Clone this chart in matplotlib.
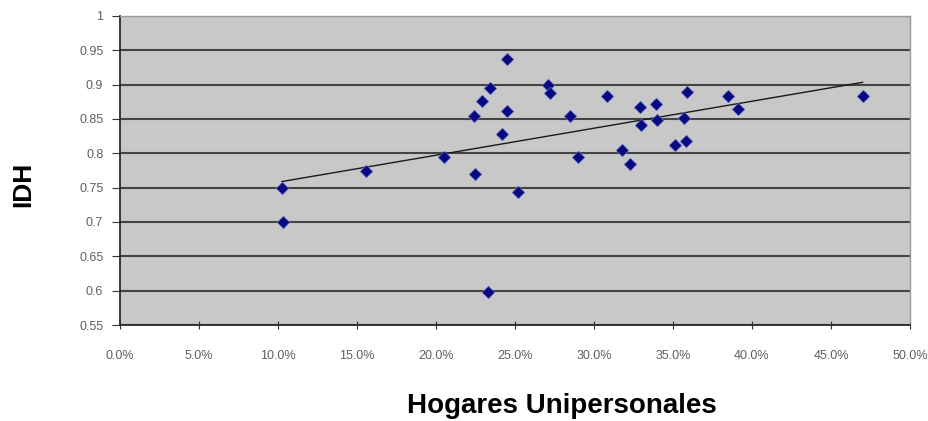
import matplotlib
matplotlib.use('Agg')
import matplotlib.pyplot as plt
import numpy as np
from matplotlib.ticker import PercentFormatter

plt.rcParams['font.family'] = ['Liberation Sans', 'DejaVu Sans']

# share of one-person households (%) and HDI
hogares = [10.25, 10.3, 15.6, 20.5, 22.4, 22.5, 22.9, 23.4, 23.3, 24.5,
           24.5, 24.2, 25.2, 27.1, 27.2, 28.5, 29.0, 30.8, 31.8, 32.3,
           32.9, 33.0, 33.9, 34.0, 35.1, 35.7, 35.8, 35.9, 38.5, 39.1, 47.0]
idh = [0.750, 0.700, 0.775, 0.795, 0.855, 0.770, 0.876, 0.895, 0.598, 0.937,
       0.862, 0.828, 0.744, 0.900, 0.888, 0.854, 0.795, 0.884, 0.805, 0.784,
       0.867, 0.841, 0.872, 0.848, 0.812, 0.852, 0.818, 0.889, 0.883, 0.865,
       0.884]
y_labels = ['0.55', '0.6', '0.65', '0.7', '0.75', '0.8', '0.85', '0.9',
            '0.95', '1']

x = np.array(hogares)
y = np.array(idh)

fig = plt.figure(figsize=(9.29, 4.21), dpi=100)
ax = fig.add_axes([120 / 929, 96 / 421, 790 / 929, 309 / 421])
ax.set_facecolor('#c8c8c8')

ax.grid(axis='y', color='#444444', linewidth=1.5)
ax.set_axisbelow(True)

# linear trend line, as in the spreadsheet
m, b = np.polyfit(x, y, 1)
xt = np.array([x.min(), x.max()])
ax.plot(xt, m * xt + b, color='#1a1a1a', linewidth=1.0, zorder=3)

ax.scatter(x, y, marker='D', s=42, color='#0a0a80', edgecolors='#7080d0',
           linewidths=0.4, zorder=4)

ax.set_xlim(0, 50)
ax.set_ylim(0.55, 1.0)
ax.set_xticks(np.arange(0, 50.1, 5))
ax.set_yticks(np.arange(0.55, 1.001, 0.05))
ax.xaxis.set_major_formatter(PercentFormatter(decimals=1))
ax.set_yticklabels(y_labels)
ax.tick_params(axis='both', labelsize=9, labelcolor='#606060', color='#333333')
ax.tick_params(axis='y', length=6, pad=6)
ax.tick_params(axis='x', direction='inout', length=6, pad=15)

for side in ['left', 'bottom']:
    ax.spines[side].set_color('#2a2a2a')
    ax.spines[side].set_linewidth(1.3)
for side in ['top', 'right']:
    ax.spines[side].set_color('#9a9a9a')
    ax.spines[side].set_linewidth(1.0)

fig.text(23 / 929, 1 - 184 / 421, 'IDH', rotation=90, fontsize=19,
         fontweight='bold', ha='center', va='center')
fig.text(562 / 929, 1 - 413 / 421, 'Hogares Unipersonales', fontsize=20,
         fontweight='bold', ha='center', va='baseline')

fig.savefig('out.png', dpi=100)
